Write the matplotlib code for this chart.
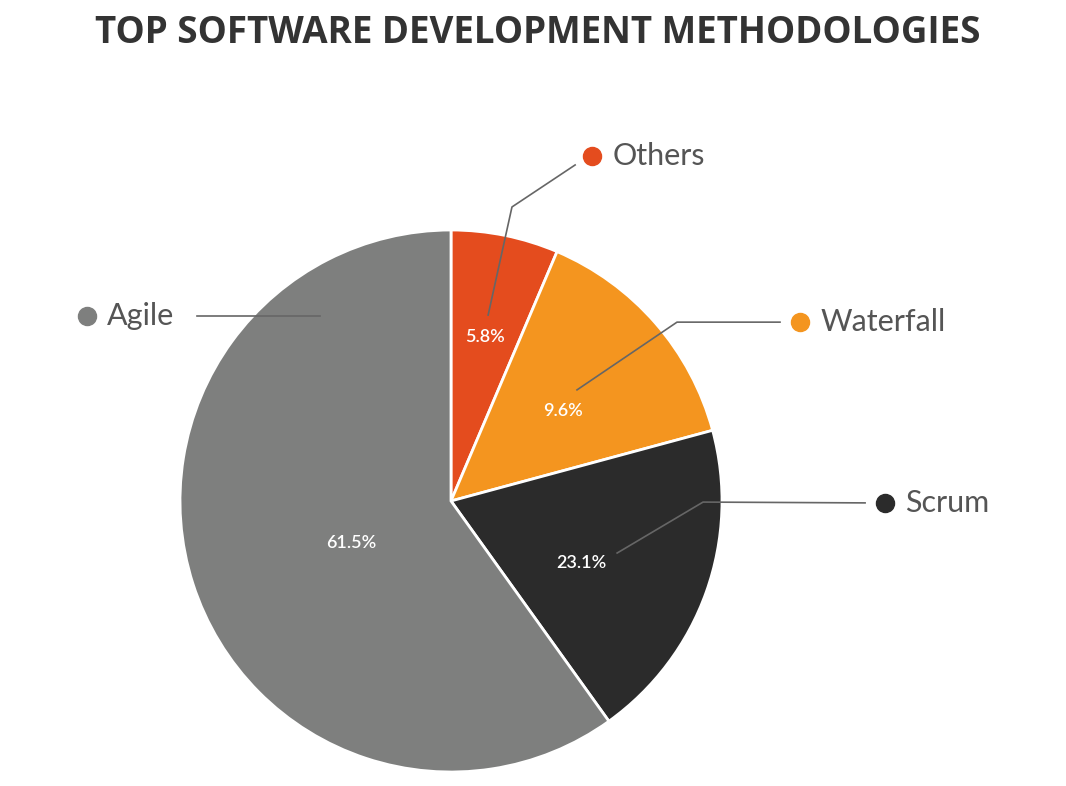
import matplotlib.pyplot as plt

labels = ["Others", "Waterfall", "Scrum", "Agile"]
pct_text = ["5.8%", "9.6%", "23.1%", "61.5%"]
# wedge sizes as drawn in the reference picture
wedge_sizes = [6.4, 14.4, 19.3, 59.9]
colors = ["#e44c1e", "#f4951f", "#2b2b2b", "#7e7f7e"]

# layout (data units, pie radius = 1)
pct_xy = [(0.125, 0.605), (0.413, 0.332), (0.48, -0.229), (-0.369, -0.155)]
leaders = {
    "Others": ([0.137, 0.225, 0.458], [0.686, 1.085, 1.24], (0.52, 1.273)),
    "Waterfall": ([0.465, 0.834, 1.214], [0.41, 0.66, 0.66], (1.288, 0.66)),
    "Scrum": ([0.613, 0.93, 1.528], [-0.192, -0.004, -0.007], (1.60, -0.007)),
    "Agile": ([-0.483, -0.937], [0.683, 0.683], (-1.343, 0.683)),
}

fig = plt.figure(figsize=(10.66, 7.86), dpi=100)
ax = fig.add_axes([180 / 1066, 14 / 786, 542 / 1066, 542 / 786])
ax.pie(wedge_sizes, colors=colors, startangle=90, counterclock=False,
       radius=1, wedgeprops=dict(edgecolor="white", linewidth=2))
ax.set_xlim(-1, 1)
ax.set_ylim(-1, 1)
ax.set_aspect("equal")
ax.axis("off")

for txt, (x, y) in zip(pct_text, pct_xy):
    ax.text(x, y, txt, ha="center", va="center", color="white",
            fontsize=13, fontweight="semibold", family="Lato")

for lab, col in zip(labels, colors):
    xs, ys, (dx, dy) = leaders[lab]
    ax.plot(xs, ys, color="#666666", lw=1.2, clip_on=False)
    ax.plot(dx, dy, "o", ms=13, color=col, clip_on=False)
    ax.text(dx + 0.075, dy, lab, ha="left", va="center", fontsize=22,
            color="#555555", family="Lato", clip_on=False)

fig.text(538 / 1066, 1 - 33 / 786, "TOP SOFTWARE DEVELOPMENT METHODOLOGIES",
         ha="center", va="center", fontsize=26.5, fontweight="bold",
         color="#333333", family="Open Sans")

fig.savefig("out.png", dpi=100)
